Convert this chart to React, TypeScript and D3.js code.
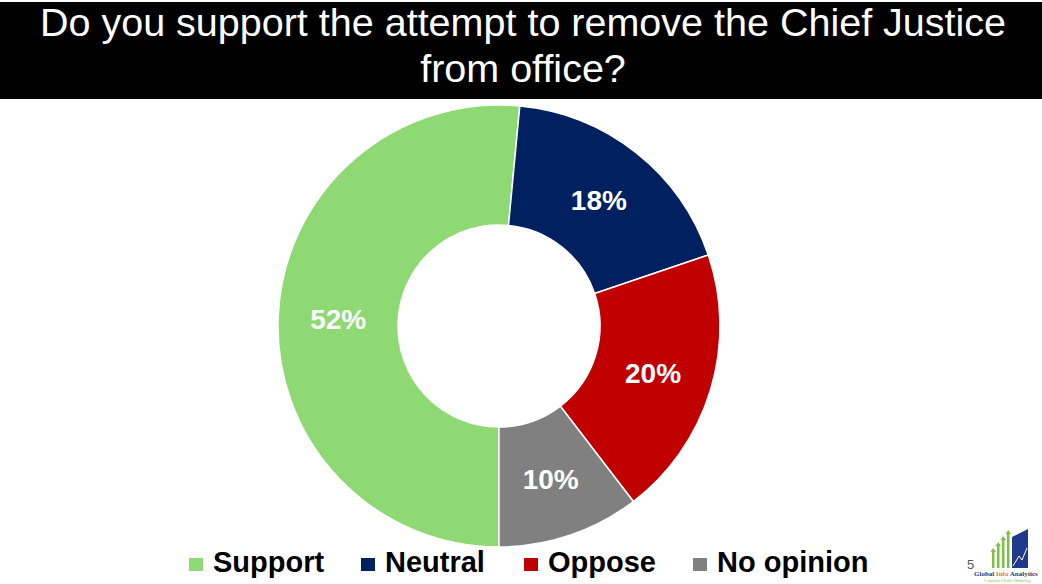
import React from "react";
import * as d3 from "d3";

const categories = ["Support", "Neutral", "Oppose", "No opinion"];
const values = [51.5, 18.3, 19.8, 10.4];
const colors = ["#8ED973", "#002060", "#C00000", "#808080"];
const titleLines = ["Do you support the attempt to remove the Chief Justice", "from office?"];

const W = 1042;
const H = 584;

export default function App() {
  const cx = 499;
  const cy = 326;
  const outerR = 221;
  const innerR = 101;
  const pie = d3
    .pie<number>()
    .sort(null)
    .startAngle(Math.PI)
    .endAngle(3 * Math.PI);
  const arcs = pie(values);
  const arcGen = d3.arc<d3.PieArcDatum<number>>().innerRadius(innerR).outerRadius(outerR);
  const labelArc = d3
    .arc<d3.PieArcDatum<number>>()
    .innerRadius((innerR + outerR) / 2)
    .outerRadius((innerR + outerR) / 2);

  // legend text start positions
  const legendTextX = [213, 385, 548, 717];

  return (
    <svg
      width={W}
      height={H}
      style={{ position: "absolute", left: 0, top: 0, background: "#fff" }}
      fontFamily="'Liberation Sans', Arial, sans-serif"
    >
      <rect x={0} y={0} width={W} height={H} fill="#fff" />
      <rect x={0} y={2} width={W} height={97} fill="#000" />
      {titleLines.map((t, i) => (
        <text
          key={i}
          x={W / 2 + 2}
          y={36 + i * 46}
          textAnchor="middle"
          fill="#fff"
          fontSize={39.5}
        >
          {t}
        </text>
      ))}
      <g transform={`translate(${cx},${cy})`}>
        {arcs.map((a, i) => (
          <path key={i} d={arcGen(a) || ""} fill={colors[i]} stroke="#fff" strokeWidth={1.5} />
        ))}
        {arcs.map((a, i) => {
          const [lx, ly] = labelArc.centroid(a);
          return (
            <text
              key={"l" + i}
              x={lx}
              y={ly}
              dy="0.36em"
              textAnchor="middle"
              fill="#fff"
              fontWeight="bold"
              fontSize={28}
            >
              {Math.round(values[i]) + "%"}
            </text>
          );
        })}
      </g>
      <g>
        {categories.map((c, i) => {
          const x = legendTextX[i];
          return (
            <g key={c}>
              <rect x={x - 24} y={558} width={14} height={13} fill={colors[i]} />
              <text x={x} y={572} fontWeight="bold" fontSize={29} fill="#000">
                {c}
              </text>
            </g>
          );
        })}
      </g>
      <text x={967} y={569} fontSize={13} fill="#595959">
        5
      </text>
      <g>
        {[0, 1, 2, 3].map((k) => (
          <g key={k}>
            <rect x={992 + k * 5} y={552 - k * 6} width={2.5} height={16 + k * 6} fill="#7CC242" />
            <path d={`M${990.5 + k * 5},${552 - k * 6} l2.75,-4 l2.75,4 z`} fill="#7CC242" />
          </g>
        ))}
        <path d="M1012,568 L1012,537 L1028,529 L1028,568 Z" fill="#1F3A8A" />
        <path d="M1013,566 L1019,556 L1022,560 L1027,548" stroke="#fff" strokeWidth={1} fill="none" />
        <text x={974} y={576} fontSize={7} fontWeight="bold" fontFamily="'Liberation Serif', serif" fill="#1F3A6E">
          Global <tspan fill="#E07B1F">Info</tspan> Analytics
        </text>
        <text x={984} y={582} fontSize={4} fontFamily="'Liberation Serif', serif" fill="#7CC242">
          • Analysis • Polls • Modeling
        </text>
      </g>
    </svg>
  );
}
